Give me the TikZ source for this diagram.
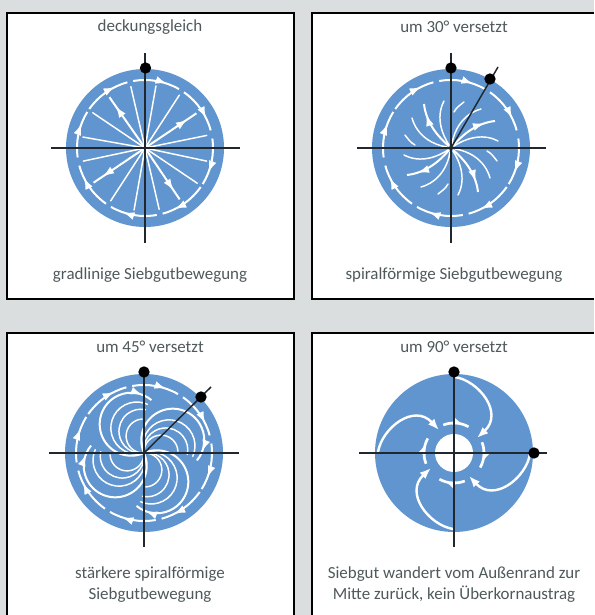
\documentclass[tikz,border=0pt]{standalone}
\usepackage{fontspec}
\setmainfont{Carlito}
\usetikzlibrary{arrows.meta,decorations.markings}
\definecolor{PanelGray}{HTML}{DADEDF}
\definecolor{SieveBlue}{HTML}{6095CF}
\definecolor{LabelInk}{HTML}{4F595C}
\definecolor{AxisInk}{HTML}{20282E}

\begin{document}
\begin{tikzpicture}[
	x=0.75pt,
	y=0.75pt,
	frame/.style={
		draw=black,
		line width=1.6pt
	},
	caption/.style={
		text=LabelInk,
		align=center,
		font=\fontsize{12.7}{15.8}\selectfont,
		inner sep=0pt
	},
	disc/.style={
		fill=SieveBlue
	},
	axis/.style={
		draw=AxisInk,
		line width=1.1pt
	},
	pinhead/.style={
		circle,
		fill=black,
		minimum size=8.5pt,
		inner sep=0pt
	},
	sweep/.style={
		draw=white,
		line width=1.5pt
	},
	sweepthin/.style={
		draw=white,
		line width=1.1pt,
		line cap=round
	},
	headed/.style={
		postaction={
			decorate,
			decoration={
				markings,
				mark=at position #1 with {\arrow{Latex[length=8.5pt,width=6pt]}}
			}
		}
	}
]

\useasboundingbox (0,0) rectangle (594,615);
\fill[PanelGray] (0,0) rectangle (594,615);

% panels
\fill[white] (7,316) rectangle (294,602);
\fill[white] (312,316) rectangle (594,602);
\fill[white] (7,0) rectangle (294,282);
\fill[white] (312,0) rectangle (594,282);
\draw[frame] (7,316) rectangle (294,602);
\draw[frame] (594,602) -- (312,602) -- (312,316) -- (594,316);
\draw[frame] (7,0) -- (7,282) -- (294,282) -- (294,0);
\draw[frame] (312,0) -- (312,282) -- (594,282);

\coordinate (hubA) at (145,467);
\coordinate (hubB) at (451,467);
\coordinate (hubC) at (144,162);
\coordinate (hubD) at (454,162);

\foreach \hub in {hubA,hubB,hubC,hubD}
	\fill[disc] (\hub) circle (79);

% outer ring
\foreach \hub in {hubA,hubB,hubC}
	\foreach \start in {100,55,8,-35,-80,-125,-172,145}
		\draw[sweep, headed=0.72, shift={(\hub)}] (\start:68) arc[start angle=\start, delta angle=-40, radius=68];

% straight spokes
\foreach \ang in {11.5,57,80,103,146,170,192,237,260,283,326,348}
	\draw[sweepthin, shift={(hubA)}] (0,0) -- (\ang:63);
\foreach \ang in {34,125,214,304}
	\draw[sweep, headed=0.82, shift={(hubA)}] (0,0) -- (\ang:62);

% short spirals
\foreach \turn in {0,90,180,270} {
	\begin{scope}[shift={(hubB)}, rotate=\turn]
		\draw[sweep, headed=0.78] (2,2) .. controls (12,14) and (26,25) .. (44,27);
		\draw[sweepthin] (3,2) .. controls (12,8) and (30,16) .. (47,7);
		\draw[sweepthin] (1,4) .. controls (3,18) and (12,34) .. (30,39);
		\draw[sweepthin] (36,-3) .. controls (40,-5) and (43,-9) .. (46,-13);
	\end{scope}
}

% long spirals
\foreach \turn in {0,90,180,270} {
	\begin{scope}[shift={(hubC)}, rotate=\turn]
		\draw[sweep, headed=0.92] (0,0) arc[start angle=-66, delta angle=-244, radius=31.5];
		\draw[sweepthin] (0,0) arc[start angle=-74, delta angle=-220, radius=26];
		\draw[sweepthin] (0,0) arc[start angle=-82, delta angle=-200, radius=22];
		\draw[sweepthin] (0,0) arc[start angle=-87, delta angle=-180, radius=17];
	\end{scope}
}

% return flow
\fill[white] (hubD) circle (19);
\foreach \turn in {0,90,180,270} {
	\begin{scope}[shift={(hubD)}, rotate=\turn]
		\draw[sweep, line width=2pt, headed=0.8] (111:30) arc[start angle=111, delta angle=-50, radius=30];
		\draw[sweep, line width=1.8pt, -{Latex[length=8.5pt,width=6.5pt]}] (1,76) .. controls (25,72) and (50,40) .. (23,15);
	\end{scope}
}

% axes
\draw[axis] (51,467) -- (240,467);
\draw[axis] (145,372) -- (145,562);
\draw[axis] (357,467) -- (546,467);
\draw[axis] (451,372) -- (451,562);
\draw[axis] (49,162) -- (239,162);
\draw[axis] (144,68) -- (144,245);
\draw[axis] (359,162) -- (547,162);
\draw[axis] (454,68) -- (454,243);

\coordinate (tipB) at (498,548);
\coordinate (tipC) at (211,228);
\draw[axis] (hubB) -- (tipB);
\draw[axis] (hubC) -- (tipC);

\node[pinhead] (pinA) at (145.5,547) {};
\node[pinhead] (pinB) at (451,547) {};
\node[pinhead] (pinBtwo) at (490,536) {};
\node[pinhead] (pinC) at (144,243) {};
\node[pinhead] (pinCtwo) at (201,218) {};
\node[pinhead] (pinD) at (454,243) {};
\node[pinhead] (pinDtwo) at (534,162) {};

% labels
\node[caption] (topA) at (150,588) {deckungsgleich};
\node[caption] (topB) at (454,588) {um 30° versetzt};
\node[caption] (topC) at (150,268) {um 45° versetzt};
\node[caption] (topD) at (454,268) {um 90° versetzt};
\node[caption] (belowA) at (150,340) {gradlinige Siebgutbewegung};
\node[caption] (belowB) at (454,340) {spiralförmige Siebgutbewegung};
\node[caption] (belowC) at (150,30.5) {stärkere spiralförmige\\Siebgutbewegung};
\node[caption] (belowD) at (454,30.5) {Siebgut wandert vom Außenrand zur\\Mitte zurück, kein Überkornaustrag};

\end{tikzpicture}
\end{document}
